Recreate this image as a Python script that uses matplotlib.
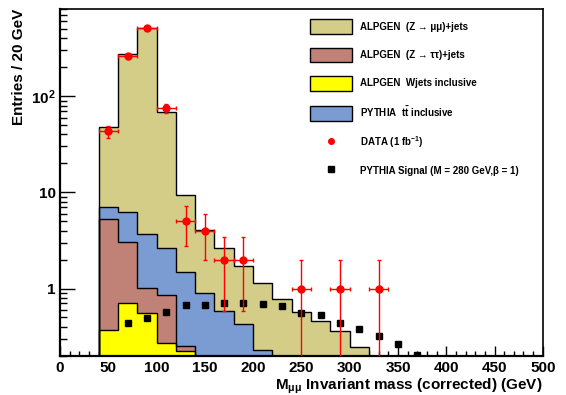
import numpy as np
import matplotlib
matplotlib.use("Agg")
import matplotlib.pyplot as plt
import matplotlib.patches as patches
from matplotlib.lines import Line2D
from matplotlib.ticker import FixedLocator, LogLocator, MultipleLocator, NullFormatter

plt.rcParams['font.family'] = ['Liberation Sans', 'DejaVu Sans']
plt.rcParams['font.weight'] = 'bold'
plt.rcParams['mathtext.fontset'] = 'custom'
plt.rcParams['mathtext.rm'] = 'Liberation Sans:bold'
plt.rcParams['mathtext.it'] = 'Liberation Sans:bold'
plt.rcParams['mathtext.bf'] = 'Liberation Sans:bold'

# stacked histogram levels (cumulative), 20 GeV bins starting at 40 GeV
zmumu_top = [48, 276, 518, 69, 9.5, 4.05, 2.65, 1.72, 1.15, 0.78, 0.57, 0.457, 0.359, 0.245]
ttbar_top = [6.98, 6.28, 3.65, 2.65, 1.49, 0.89, 0.59, 0.43, 0.23]
ztautau_top = [5.31, 3.01, 1.02, 0.85, 0.255]
wjets_top = [0.37, 0.70, 0.56, 0.27, 0.222]
bin_start = 40
bin_width = 20

# data points
data_x = [50, 70, 90, 110, 130, 150, 170, 190, 250, 290, 330]
data_y = [43, 261, 516, 75, 5, 4, 2, 2, 1, 1, 1]

# signal points
sig_x = [70, 90, 110, 130, 150, 170, 190, 210, 230, 250, 270, 290, 310, 330, 350, 370]
sig_y = [0.442, 0.494, 0.576, 0.675, 0.675, 0.715, 0.703, 0.686, 0.654, 0.553, 0.531, 0.438, 0.38, 0.321, 0.267, 0.205]

labels = ['ALPGEN  (Z \u2192 \u03bc\u03bc)+jets', 'ALPGEN  (Z \u2192 \u03c4\u03c4)+jets',
          'ALPGEN  Wjets inclusive', r'PYTHIA  t$\bar{t}$ inclusive',
          r'DATA (1 fb$^{-1}$)', 'PYTHIA Signal (M = 280 GeV,\u03b2 = 1)']

c_zmumu = '#d3cd88'
c_ztautau = '#c08177'
c_wjets = '#ffff00'
c_ttbar = '#7b9bd3'

fig = plt.figure(figsize=(5.66, 3.95), dpi=100)
ax = fig.add_axes([0.106, 0.0995, 0.853, 0.878])
ax.set_yscale('log')

def edges(vals):
    return bin_start + bin_width * np.arange(len(vals) + 1)

for vals, col in [(zmumu_top, c_zmumu), (ttbar_top, c_ttbar),
                  (ztautau_top, c_ztautau), (wjets_top, c_wjets)]:
    ax.stairs(vals, edges(vals), baseline=1e-3, fill=True, facecolor=col,
              edgecolor='none', zorder=2)
    ax.stairs(vals, edges(vals), baseline=1e-3, fill=False, color='black',
              lw=1.0, zorder=3)

ax.plot(sig_x, sig_y, 's', color='black', ms=5, zorder=5, clip_on=True)

data_y = np.array(data_y, dtype=float)
err = np.sqrt(data_y)
lo = np.minimum(err, data_y - 1e-4)
ax.errorbar(data_x, data_y, yerr=[lo, err], xerr=10, fmt='o', color='red',
            ms=5, lw=1.0, capsize=1.5, capthick=1.0, zorder=6)

ax.set_xlim(0, 500)
ax.set_ylim(0.2, 810)

ax.xaxis.set_major_locator(MultipleLocator(50))
ax.xaxis.set_minor_locator(MultipleLocator(10))
ax.yaxis.set_major_locator(FixedLocator([1, 10, 100]))
ax.set_yticklabels(['1', '10', r'10$^{2}$'])
ax.yaxis.set_minor_locator(LogLocator(base=10, subs=np.arange(2, 10)))
ax.yaxis.set_minor_formatter(NullFormatter())

ax.tick_params(axis='x', which='major', direction='in', length=7, width=1.0,
               labelsize=11, pad=4, top=False)
ax.tick_params(axis='x', which='minor', direction='in', length=3.5, width=1.0, top=False)
ax.tick_params(axis='y', which='major', direction='in', length=10.5, width=1.0,
               labelsize=11, pad=3, right=False)
ax.tick_params(axis='y', which='minor', direction='in', length=5, width=1.0, right=False)
for lab in ax.get_xticklabels() + ax.get_yticklabels():
    lab.set_fontweight('bold')

for side in ['left', 'bottom']:
    ax.spines[side].set_linewidth(1.6)
for side in ['top', 'right']:
    ax.spines[side].set_linewidth(1.2)

ax.set_xlabel(r'M$_{\mathrm{\mu\mu}}$ Invariant mass (corrected) (GeV)', fontsize=11,
              fontweight='bold', loc='right')
ax.xaxis.set_label_coords(1.0, -0.06)
ax.set_ylabel('Entries / 20 GeV', fontsize=11, fontweight='bold', loc='top')
ax.yaxis.set_label_coords(-0.07, 1.0)

handles = [patches.Patch(facecolor=c_zmumu, edgecolor='black', lw=1.0),
           patches.Patch(facecolor=c_ztautau, edgecolor='black', lw=1.0),
           patches.Patch(facecolor=c_wjets, edgecolor='black', lw=1.0),
           patches.Patch(facecolor=c_ttbar, edgecolor='black', lw=1.0),
           Line2D([], [], ls='none', marker='o', color='red', ms=4),
           Line2D([], [], ls='none', marker='s', color='black', ms=4)]
leg = ax.legend(handles, labels, loc='upper left', bbox_to_anchor=(0.518, 0.97),
                frameon=False, fontsize=7, handlelength=4.3, handleheight=1.95,
                handletextpad=0.8, labelspacing=1.4, borderpad=0, borderaxespad=0)
for t in leg.get_texts():
    t.set_fontweight('bold')

fig.savefig('out.png', dpi=100)
